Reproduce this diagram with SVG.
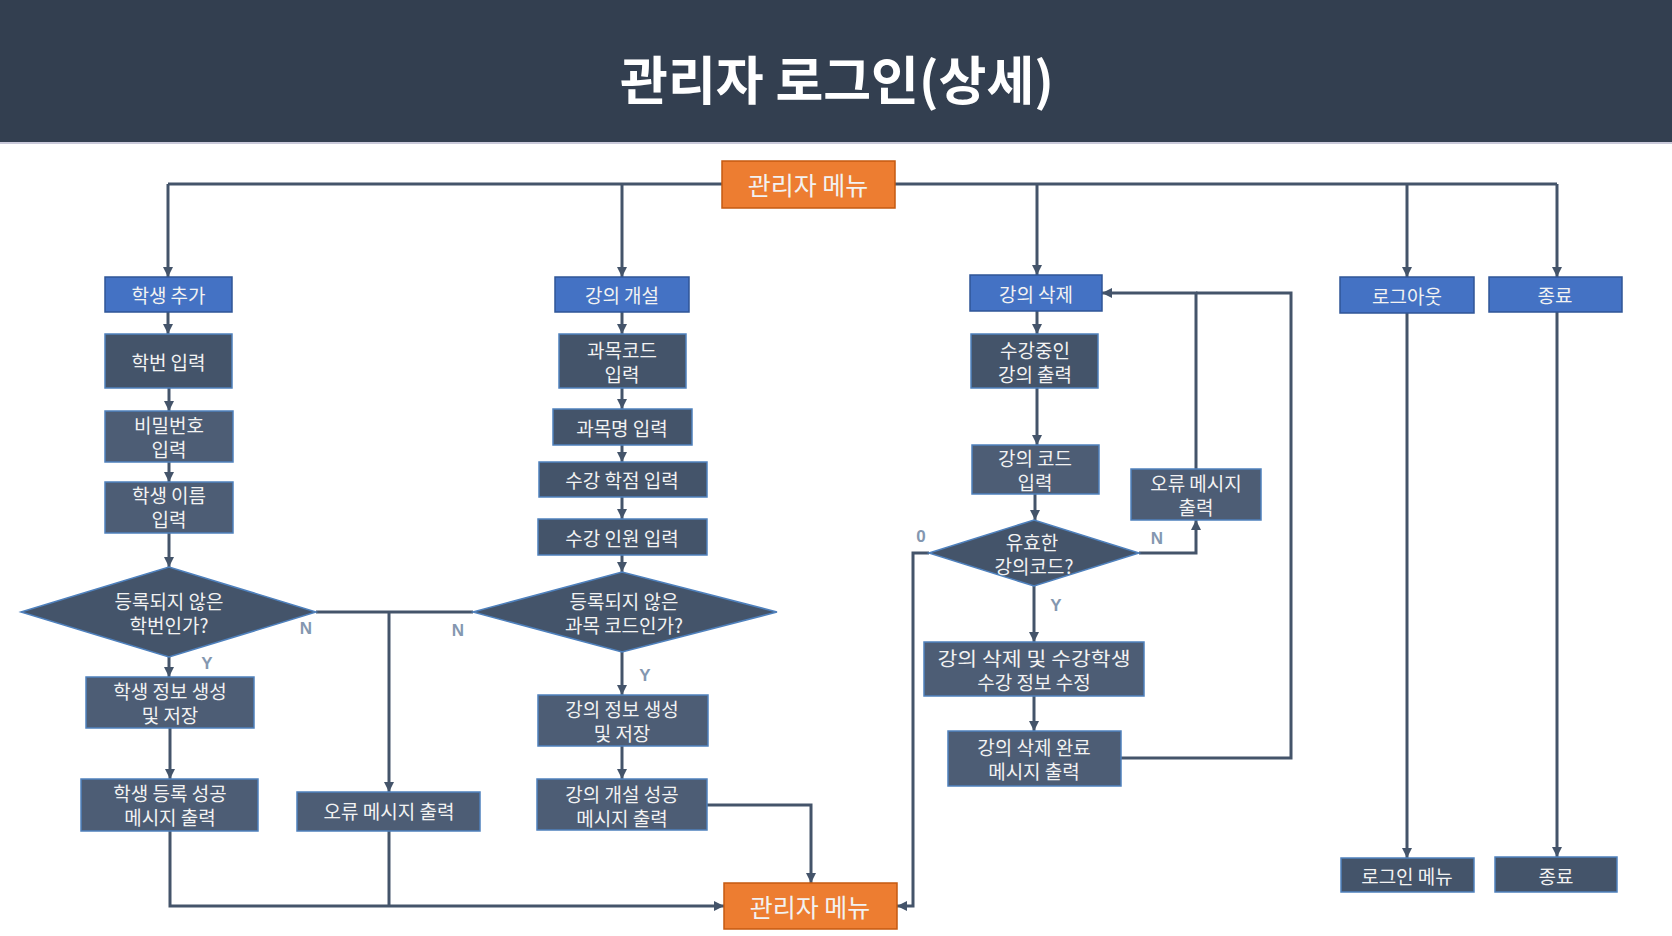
<svg xmlns="http://www.w3.org/2000/svg" width="1672" height="936" viewBox="0 0 1672 936">
<style>
.t{font-family:"Noto Sans CJK KR","Liberation Sans",sans-serif;font-size:19px;fill:#f2f2f2;text-anchor:middle;dominant-baseline:central}
.big{font-size:25px}
.title{font-family:"Noto Sans CJK KR","Liberation Sans",sans-serif;font-size:52px;font-weight:bold;fill:#ffffff;text-anchor:middle;dominant-baseline:central}
.lbl{font-family:"Liberation Sans",Arial,sans-serif;font-size:17px;font-weight:bold;fill:#8497b0;text-anchor:middle;dominant-baseline:central}
.blue{fill:#4472c4;stroke:#2f5597;stroke-width:1.5}
.dk{fill:#44546a;stroke:#4f81bd;stroke-width:1.5}
.md{fill:#4d5d75;stroke:#4f81bd;stroke-width:1.5}
.or{fill:#ed7d31;stroke:#c55a11;stroke-width:1.5}
.c{fill:none;stroke:#44546a;stroke-width:3}
.a{marker-end:url(#ah)}
</style>
<defs>
<marker id="ah" markerUnits="userSpaceOnUse" markerWidth="12" markerHeight="12" refX="10" refY="6" orient="auto">
<path d="M0,1 L10,6 L0,11 z" fill="#44546a"/>
</marker>
</defs>
<rect width="1672" height="936" fill="#ffffff"/>
<g id="header">
<rect x="0" y="0" width="1672" height="142" fill="#333f50"/>
<rect x="0" y="142" width="1672" height="2" fill="#c9c9da"/>
<text class="title" x="837" y="77">관리자 로그인(상세)</text>
</g>
<g id="connectors">
<path class="c" d="M168 184 H1557"/>
<path class="c a" d="M168 184 V277"/>
<path class="c a" d="M622 184 V277"/>
<path class="c a" d="M1037 184 V275"/>
<path class="c a" d="M1407 184 V277"/>
<path class="c a" d="M1557 184 V277"/>
<path class="c a" d="M168 312 V334"/>
<path class="c a" d="M169 388 V411"/>
<path class="c a" d="M169 462 V482"/>
<path class="c a" d="M169 533 V567"/>
<path class="c a" d="M169 657 V677"/>
<path class="c a" d="M170 728 V779"/>
<path class="c" d="M316 612 H473"/>
<path class="c a" d="M389 612 V792"/>
<path class="c a" d="M170 831 V906 H724"/>
<path class="c" d="M389 831 V906"/>
<path class="c a" d="M622 312 V334"/>
<path class="c a" d="M622 388 V409"/>
<path class="c a" d="M622 445 V462"/>
<path class="c a" d="M622 497 V519"/>
<path class="c a" d="M622 555 V572"/>
<path class="c a" d="M622 652 V695"/>
<path class="c a" d="M622 746 V779"/>
<path class="c a" d="M707 805 H811 V883"/>
<path class="c a" d="M1037 311 V334"/>
<path class="c a" d="M1037 388 V445"/>
<path class="c a" d="M1035 494 V520"/>
<path class="c a" d="M1034 586 V642"/>
<path class="c a" d="M1034 696 V731"/>
<path class="c a" d="M1139 553 H1196 V520"/>
<path class="c a" d="M1196 469 V293 H1102"/>
<path class="c" d="M1121 758 H1291 V293 H1196"/>
<path class="c a" d="M929 553 H913 V906 H897"/>
<path class="c a" d="M1407 313 V858"/>
<path class="c a" d="M1557 312 V857"/>
</g>
<g id="admin-menu-top"><rect class="or" x="722" y="161" width="173" height="47"/><text class="t big" x="808" y="184">관리자 메뉴</text></g>
<g id="add-student"><rect class="blue" x="105" y="277" width="127" height="35"/><text class="t" x="168.5" y="294">학생 추가</text></g>
<g id="input-id"><rect class="dk" x="105" y="334" width="127" height="54"/><text class="t" x="168.5" y="361">학번 입력</text></g>
<g id="input-pw"><rect class="md" x="105" y="411" width="128" height="51"/><text class="t" x="169" y="424">비밀번호</text><text class="t" x="169" y="448">입력</text></g>
<g id="input-name"><rect class="md" x="105" y="482" width="128" height="51"/><text class="t" x="169" y="494">학생 이름</text><text class="t" x="169" y="518">입력</text></g>
<g id="dec-student"><polygon class="dk" points="21,612 169,567 316,612 169,657"/><text class="t" x="169" y="600">등록되지 않은</text><text class="t" x="169" y="624">학번인가?</text></g>
<g id="create-student"><rect class="md" x="86" y="677" width="168" height="51"/><text class="t" x="170" y="690">학생 정보 생성</text><text class="t" x="170" y="714">및 저장</text></g>
<g id="student-ok"><rect class="md" x="81" y="779" width="177" height="52"/><text class="t" x="170" y="792">학생 등록 성공</text><text class="t" x="170" y="816">메시지 출력</text></g>
<g id="error-1"><rect class="md" x="297" y="792" width="183" height="39"/><text class="t" x="389" y="810">오류 메시지 출력</text></g>
<g id="open-course"><rect class="blue" x="555" y="277" width="134" height="35"/><text class="t" x="622" y="294">강의 개설</text></g>
<g id="input-code"><rect class="dk" x="559" y="334" width="127" height="54"/><text class="t" x="622" y="349">과목코드</text><text class="t" x="622" y="373">입력</text></g>
<g id="input-cname"><rect class="dk" x="553" y="409" width="139" height="36"/><text class="t" x="622" y="427">과목명 입력</text></g>
<g id="input-credit"><rect class="dk" x="539" y="462" width="168" height="35"/><text class="t" x="622" y="479">수강 학점 입력</text></g>
<g id="input-cap"><rect class="dk" x="538" y="519" width="169" height="36"/><text class="t" x="622" y="537">수강 인원 입력</text></g>
<g id="dec-course"><polygon class="dk" points="473,612 622,572 777,612 622,652"/><text class="t" x="624" y="600">등록되지 않은</text><text class="t" x="624" y="624">과목 코드인가?</text></g>
<g id="create-course"><rect class="md" x="538" y="695" width="170" height="51"/><text class="t" x="622" y="708">강의 정보 생성</text><text class="t" x="622" y="732">및 저장</text></g>
<g id="course-ok"><rect class="md" x="537" y="779" width="170" height="51"/><text class="t" x="622" y="793">강의 개설 성공</text><text class="t" x="622" y="817">메시지 출력</text></g>
<g id="admin-menu-bottom"><rect class="or" x="724" y="883" width="173" height="46"/><text class="t big" x="810" y="906">관리자 메뉴</text></g>
<g id="delete-course"><rect class="blue" x="970" y="275" width="132" height="36"/><text class="t" x="1036" y="293">강의 삭제</text></g>
<g id="list-courses"><rect class="dk" x="971" y="334" width="127" height="54"/><text class="t" x="1035" y="349">수강중인</text><text class="t" x="1035" y="373">강의 출력</text></g>
<g id="input-ccode"><rect class="md" x="972" y="445" width="127" height="49"/><text class="t" x="1035" y="457">강의 코드</text><text class="t" x="1035" y="481">입력</text></g>
<g id="error-2"><rect class="md" x="1131" y="469" width="130" height="51"/><text class="t" x="1196" y="482">오류 메시지</text><text class="t" x="1196" y="506">출력</text></g>
<g id="dec-valid"><polygon class="dk" points="929,553 1034,520 1139,553 1034,586"/><text class="t" x="1032" y="541">유효한</text><text class="t" x="1034" y="565">강의코드?</text></g>
<g id="delete-update"><rect class="md" x="924" y="642" width="220" height="54"/><text class="t" x="1034" y="657" textLength="193" lengthAdjust="spacingAndGlyphs">강의 삭제 및 수강학생</text><text class="t" x="1034" y="681">수강 정보 수정</text></g>
<g id="delete-ok"><rect class="md" x="948" y="731" width="173" height="55"/><text class="t" x="1034" y="746">강의 삭제 완료</text><text class="t" x="1034" y="770">메시지 출력</text></g>
<g id="logout"><rect class="blue" x="1340" y="277" width="134" height="36"/><text class="t" x="1407" y="295">로그아웃</text></g>
<g id="exit"><rect class="blue" x="1489" y="277" width="133" height="35"/><text class="t" x="1555" y="294">종료</text></g>
<g id="login-menu"><rect class="dk" x="1341" y="858" width="133" height="34"/><text class="t" x="1407" y="875">로그인 메뉴</text></g>
<g id="end"><rect class="dk" x="1495" y="857" width="122" height="35"/><text class="t" x="1556" y="875">종료</text></g>
<g id="labels">
<text class="lbl" x="306" y="628">N</text>
<text class="lbl" x="207" y="663">Y</text>
<text class="lbl" x="458" y="630">N</text>
<text class="lbl" x="645" y="675">Y</text>
<text class="lbl" x="1157" y="538">N</text>
<text class="lbl" x="921" y="536">0</text>
<text class="lbl" x="1056" y="605">Y</text>
</g>
</svg>
